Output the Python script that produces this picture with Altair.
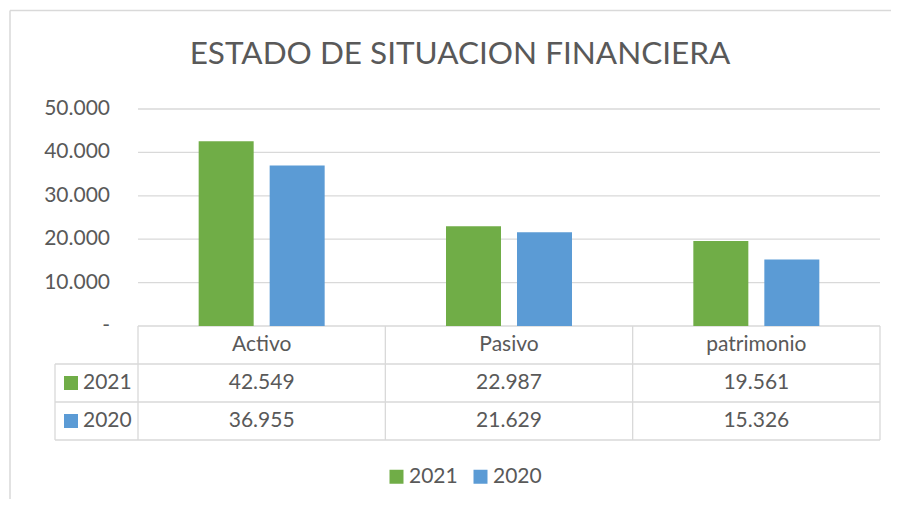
import altair as alt
import pandas as pd

# ---------------- data ----------------
categories = ["Activo", "Pasivo", "patrimonio"]
series = ["2021", "2020"]
values_2021 = [42549, 22987, 19561]
values_2020 = [36955, 21629, 15326]
y_ticks = [0, 10000, 20000, 30000, 40000, 50000]
grid_ticks = [10000, 20000, 30000, 40000, 50000]
colors = ["#70AD47", "#5B9BD5"]
chart_title = "ESTADO DE SITUACION FINANCIERA"

# ---------------- layout constants ----------------
PLOT_W, PLOT_H = 825, 331
CAT_PX = 742 / 3            # pixel width of one category column
LEFT = 83 / CAT_PX          # legend-key column of the data table (in x units)
Y_PER_PX = 50000 / 217
ROW = 38 * Y_PER_PX         # table row height in y units
Y_MIN = -3 * ROW
BAR_W = 55 / CAT_PX
HALF_GAP = 8 / CAT_PX
TEXT = "#595959"
LINE = "#D9D9D9"
FONT = "Lato"
FS = 21


def fmt(v):
    return f"{v:,}".replace(",", ".")


rows = []
for i, c in enumerate(categories):
    for j, (s, vals) in enumerate(zip(series, [values_2021, values_2020])):
        v = vals[i]
        center = i + 0.5
        if j == 0:
            x0, x1 = center - HALF_GAP - BAR_W, center - HALF_GAP
        else:
            x0, x1 = center + HALF_GAP, center + HALF_GAP + BAR_W
        rows.append(dict(cat=c, series=s, value=v, x0=x0, x1=x1, xc=center,
                         label=fmt(v), ty=-(j + 1.5) * ROW))
bars_df = pd.DataFrame(rows)

head_df = pd.DataFrame({"cat": categories,
                        "xc": [i + 0.5 for i in range(len(categories))],
                        "ty": [-0.5 * ROW] * len(categories)})
key_df = pd.DataFrame({"series": series,
                       "xk": [-LEFT] * len(series),
                       "ty": [-(j + 1.5) * ROW for j in range(len(series))]})
tick_df = pd.DataFrame({"v": y_ticks,
                        "lab": ["-" if t == 0 else fmt(t) for t in y_ticks],
                        "x": [0] * len(y_ticks)})
grid_df = pd.DataFrame({"v": grid_ticks, "a": [0] * len(grid_ticks),
                        "b": [3] * len(grid_ticks)})
hline_df = pd.DataFrame({"y": [0, -ROW, -2 * ROW, -3 * ROW],
                         "x0": [0, -LEFT, -LEFT, -LEFT],
                         "x1": [3, 3, 3, 3]})
vline_df = pd.DataFrame({"x": [0, 1, 2, 3, -LEFT],
                         "y0": [0, 0, 0, 0, -ROW],
                         "y1": [Y_MIN] * 5})

xs = alt.Scale(domain=[-LEFT, 3], nice=False, zero=False)
ys = alt.Scale(domain=[Y_MIN, 50000], nice=False, zero=False)
cs = alt.Scale(domain=series, range=colors)

bars = alt.Chart(bars_df).mark_bar().encode(
    x=alt.X("x0:Q", scale=xs, axis=None),
    x2="x1:Q",
    y=alt.Y("value:Q", scale=ys, axis=None),
    y2=alt.datum(0),
    color=alt.Color("series:N", scale=cs, legend=alt.Legend(
        title=None, orient="none", legendX=331, legendY=357, direction="horizontal",
        symbolType="square", symbolSize=196, symbolStrokeWidth=0, symbolOpacity=1,
        labelFont=FONT, labelFontSize=FS, labelColor=TEXT, labelOffset=2,
        columnPadding=12, padding=0)),
)

grid = alt.Chart(grid_df).mark_rule(color=LINE, strokeWidth=1.3).encode(
    y=alt.Y("v:Q", scale=ys, axis=None),
    x=alt.X("a:Q", scale=xs, axis=None),
    x2="b:Q",
)

ylabels = alt.Chart(tick_df).mark_text(font=FONT, fontSize=FS, color=TEXT,
                                       align="right", baseline="middle", dx=-28).encode(
    x=alt.X("x:Q", scale=xs, axis=None),
    y=alt.Y("v:Q", scale=ys, axis=None),
    text="lab:N",
)

hlines = alt.Chart(hline_df).mark_rule(color=LINE, strokeWidth=1.3).encode(
    y=alt.Y("y:Q", scale=ys, axis=None),
    x=alt.X("x0:Q", scale=xs, axis=None),
    x2="x1:Q",
)
vlines = alt.Chart(vline_df).mark_rule(color=LINE, strokeWidth=1.3).encode(
    x=alt.X("x:Q", scale=xs, axis=None),
    y=alt.Y("y0:Q", scale=ys, axis=None),
    y2="y1:Q",
)

head_text = alt.Chart(head_df).mark_text(font=FONT, fontSize=FS, color=TEXT,
                                         align="center", baseline="middle").encode(
    x=alt.X("xc:Q", scale=xs, axis=None),
    y=alt.Y("ty:Q", scale=ys, axis=None),
    text="cat:N",
)
val_text = alt.Chart(bars_df).mark_text(font=FONT, fontSize=FS, color=TEXT,
                                        align="center", baseline="middle").encode(
    x=alt.X("xc:Q", scale=xs, axis=None),
    y=alt.Y("ty:Q", scale=ys, axis=None),
    text="label:N",
)
key_sq = alt.Chart(key_df).mark_square(size=196, opacity=1, xOffset=16).encode(
    x=alt.X("xk:Q", scale=xs, axis=None),
    y=alt.Y("ty:Q", scale=ys, axis=None),
    color=alt.Color("series:N", scale=cs),
)
key_text = alt.Chart(key_df).mark_text(font=FONT, fontSize=FS, color=TEXT,
                                       align="left", baseline="middle", dx=28).encode(
    x=alt.X("xk:Q", scale=xs, axis=None),
    y=alt.Y("ty:Q", scale=ys, axis=None),
    text="series:N",
)

single = alt.Data(values=[{"t": chart_title}])
title_mark = alt.Chart(single).mark_text(font=FONT, fontSize=31.5, color=TEXT,
                                         align="center", baseline="alphabetic").encode(
    x=alt.value(405), y=alt.value(-45), text="t:N")
border_top = alt.Chart(single).mark_rule(color=LINE, strokeWidth=1.5).encode(
    x=alt.value(-45), x2=alt.value(844), y=alt.value(-98.5))
border_left = alt.Chart(single).mark_rule(color=LINE, strokeWidth=1.5).encode(
    x=alt.value(-45), y=alt.value(-98.5), y2=alt.value(400))

chart = alt.layer(
    border_top, border_left, title_mark, grid, hlines, vlines, bars, ylabels,
    head_text, val_text, key_sq, key_text,
).properties(
    width=PLOT_W, height=PLOT_H,
    autosize=alt.AutoSizeParams(type="none"),
    padding={"left": 47, "top": 101, "right": 11, "bottom": 59},
    background="white",
).configure_view(stroke=None)

chart.save("out.html", embed_options={"renderer": "svg", "actions": False})
